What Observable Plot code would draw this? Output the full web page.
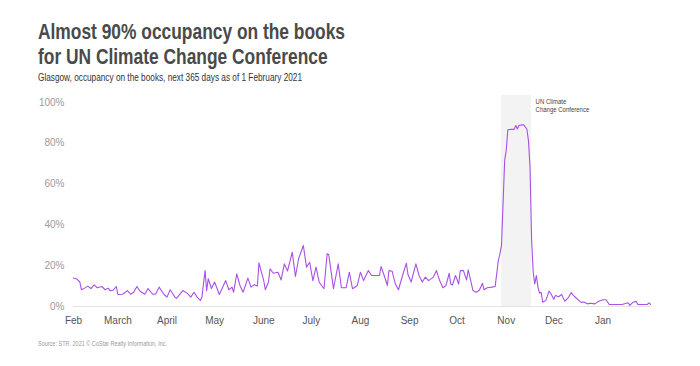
<!DOCTYPE html>
<html>
<head>
<meta charset="utf-8">
<script src="https://cdn.jsdelivr.net/npm/d3@7"></script>
<script src="https://cdn.jsdelivr.net/npm/@observablehq/plot@0.6"></script>
<style>
  html, body { margin: 0; padding: 0; background: #fff; }
  body { width: 700px; height: 366px; position: relative; overflow: hidden;
         font-family: "Liberation Sans", Arial, sans-serif; }
  .fit { position: absolute; left: 38px; white-space: nowrap; width: max-content; transform-origin: 0 0; }
  #title { top: 20px; font-size: 22px; line-height: 24.5px; font-weight: bold; color: #4a4a4a; }
  #subtitle { top: 71px; font-size: 11px; line-height: 12px; color: #333; }
  #chart { position: absolute; left: 0; top: 85px; }
  #source { top: 340px; font-size: 6.5px; line-height: 7px; color: #9a9a9a; }
</style>
</head>
<body>
<div id="title" class="fit"><div id="t1">Almost 90% occupancy on the books</div><div>for UN Climate Change Conference</div></div>
<div id="subtitle" class="fit">Glasgow, occupancy on the books, next 365 days as of 1 February 2021</div>
<div id="chart"></div>
<div id="source" class="fit">Source: STR. 2021 © CoStar Realty Information, Inc.</div>
<script>
// Day offsets from 1 February 2021 and occupancy on the books (%)
const startDate = "2021-02-01";
const endDate = "2022-01-31";
const dayOffset = [0,2,4,5,7,9,11,13,15,18,20,22,23,25,27,28,31,34,36,38,40,42,45,47,50,52,54,57,59,61,64,65,69,72,74,76,78,80,81,83,84,85,87,89,92,96,98,100,101,103,105,107,110,112,114,116,117,120,121,123,124,126,129,131,133,135,138,140,142,145,147,149,151,153,155,158,160,161,163,164,167,169,172,174,176,179,181,183,186,188,191,193,194,196,198,199,201,203,205,208,210,211,213,216,218,220,222,224,227,229,231,233,235,237,238,239,241,243,244,246,248,249,252,254,256,258,259,261,264,266,268,269,270,272,273,274,276,278,279,280,281,283,284,286,287,288,289,290,291,292,293,294,295,296,298,300,301,303,304,306,308,309,310,312,314,315,316,319,320,322,324,326,329,331,334,336,338,340,346,350,351,353,355,356,359,362,363,364];
const occupancy = [14,13.5,12,8.2,9,10,8.8,10.6,9.2,9.8,8.2,9,7.8,8,9.8,5.9,6,7.8,6,7,9.8,7.5,6,8.8,6,6.2,9.5,6,4.6,8.2,4.5,4,7.8,6.3,4.6,7,4.6,3,4.5,17.6,7.8,13.6,8.8,12,5.9,12.7,8.2,9.5,7,16,10.3,7,13.9,9.5,10.7,10,21.4,12.7,8.2,12,18.5,16.3,16.8,13,20.9,17.4,26.6,14.7,23.4,29.9,19.3,21.7,12.7,19.3,11.9,8.7,25.8,25.5,14.4,8.7,20.9,9.2,9.2,16.8,8.7,10.3,16.8,12.7,17.6,15.2,15.2,15.2,19.6,15.2,10.3,17.6,17.3,11.1,8.2,16.3,21.2,15.7,12,20.9,15.2,12,14.4,12.7,14.4,17.6,12.7,9.2,10.3,16.3,11,10.5,15.2,11,17.6,17.6,13,18,7.8,7,8,11.4,8.2,9.2,9.5,9.8,22.5,25.8,30,71.6,76.5,86.6,86.8,86.8,88.7,87,88.7,89,89,87,81.4,68.3,32.4,16.8,11.1,15.2,9.5,6.5,7,2.1,3,7.5,6.5,3.5,5.4,4.8,5.9,4,2.6,4.2,6.8,5.8,4.9,2.9,2.1,2.2,1.3,1.6,1.3,2.4,3.3,3.3,1,1,1,1.8,0.5,2.1,2.5,1,1,1,1.8,1];

// Shaded conference window
const bandStart = ["2021-10-29"];
const bandEnd = ["2021-11-17"];
const bandLabel = ["UN Climate\nChange Conference"];

// Axis ticks
const monthTicks = ["2021-02-01","2021-03-01","2021-04-01","2021-05-01","2021-06-01","2021-07-01","2021-08-01","2021-09-01","2021-10-01","2021-11-01","2021-12-01","2022-01-01"];
const monthLabels = ["Feb","March","April","May","June","July","Aug","Sep","Oct","Nov","Dec","Jan"];
const yTicks = [0, 20, 40, 60, 80, 100];

// Horizontally condense header/footer texts to the reference widths
function fitWidth(id, measureId, target) {
  const el = document.getElementById(id);
  const m = document.getElementById(measureId);
  const w = m.getBoundingClientRect().width;
  el.style.transform = `scaleX(${target / w})`;
}
fitWidth("title", "t1", 307);
fitWidth("subtitle", "subtitle", 264);
fitWidth("source", "source", 129);

const start = new Date(startDate + "T00:00:00Z");
const data = dayOffset.map((d, i) => ({date: d3.utcDay.offset(start, d), value: occupancy[i]}));
const ticks = monthTicks.map(s => new Date(s + "T00:00:00Z"));
const labelOf = new Map(ticks.map((t, i) => [+t, monthLabels[i]]));
const band = bandStart.map((s, i) => ({x1: new Date(s + "T00:00:00Z"), x2: new Date(bandEnd[i] + "T00:00:00Z"), label: bandLabel[i]}));

const chart = Plot.plot({
  width: 700,
  height: 251,
  marginTop: 10,
  marginBottom: 30,
  marginLeft: 73,
  marginRight: 50,
  style: {fontFamily: '"Liberation Sans", Arial, sans-serif', fontSize: "10px", background: "transparent"},
  x: {type: "utc", domain: [start, new Date(endDate + "T00:00:00Z")], label: null},
  y: {domain: [0, 103.4], label: null},
  marks: [
    Plot.rect(band, {x1: "x1", x2: "x2", fill: "#f3f3f3"}),
    Plot.ruleY([0], {stroke: "#e3e3e3", strokeWidth: 1}),
    Plot.axisY({ticks: yTicks, tickFormat: d => d + "%", tickSize: 0, tickPadding: 9, fill: "#9a9a9a", label: null, fontSize: 10}),
    Plot.axisX({ticks: ticks, tickFormat: d => labelOf.get(+d), tickSize: 0, tickPadding: 10, fill: "#555", label: null, fontSize: 10}),
    Plot.line(data, {x: "date", y: "value", stroke: "#a950e6", strokeWidth: 1.1, curve: "linear"}),
    Plot.text(band, {x: "x2", y: () => 103.4, text: "label", textAnchor: "start", lineAnchor: "top",
                     dx: 4, dy: 2, fontSize: 7.5, fill: "#444", lineHeight: 1.15})
  ]
});
document.getElementById("chart").appendChild(chart);

// Condense the annotation text like the reference's narrow typeface
chart.querySelectorAll("text").forEach(t => {
  if (t.textContent.startsWith("UN Climate")) {
    const tr = t.getAttribute("transform") || "";
    t.setAttribute("transform", tr + " scale(0.8,1)");
  }
});
</script>
</body>
</html>
